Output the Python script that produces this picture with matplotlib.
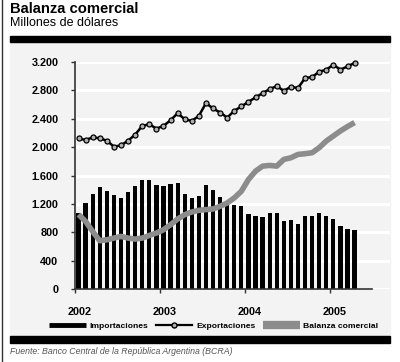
import matplotlib.pyplot as plt
from matplotlib.lines import Line2D
from matplotlib.patches import Rectangle

# Monthly data, Jan 2002 - Apr 2005 (millions of USD)
months = list(range(40))
importaciones = [1070, 1213, 1345, 1440, 1378, 1321, 1284, 1373, 1458, 1543, 1543, 1472,
                 1449, 1477, 1496, 1345, 1284, 1317, 1468, 1402, 1293, 1189, 1189, 1175,
                 1057, 1024, 1015, 1072, 1072, 953, 977, 920, 1034, 1024, 1072, 1034,
                 991, 882, 845, 826]
exportaciones = [2124, 2100, 2138, 2124, 2091, 2006, 2025, 2091, 2176, 2299, 2322, 2261,
                 2299, 2379, 2478, 2393, 2370, 2440, 2620, 2545, 2488, 2417, 2511, 2573,
                 2638, 2700, 2761, 2818, 2860, 2794, 2851, 2832, 2974, 2988, 3063, 3091,
                 3162, 3091, 3139, 3186]
balanza = [1050, 953, 811, 680, 694, 718, 741, 718, 704, 718, 755, 789,
           835, 906, 987, 1048, 1086, 1109, 1119, 1128, 1166, 1213, 1284, 1378,
           1543, 1661, 1732, 1742, 1732, 1827, 1850, 1897, 1907, 1921, 1992, 2086,
           2157, 2228, 2290, 2346]
year_labels = ['2002', '2003', '2004', '2005']
y_ticks = [0, 400, 800, 1200, 1600, 2000, 2400, 2800, 3200]

plt.rcParams['font.family'] = ['Liberation Sans', 'DejaVu Sans']

W, H = 400, 362
fig = plt.figure(figsize=(W / 100, H / 100), dpi=100)


def box(x0, y0, x1, y1):
    # pixel box (top-left origin) -> figure fraction rect
    return [x0 / W, 1 - y1 / H, (x1 - x0) / W, (y1 - y0) / H]


# Light gray panel and the two thick black rules
fig.patches.append(Rectangle((10 / W, 1 - 335 / H), 380 / W, 293 / H,
                             transform=fig.transFigure, color='#f3f3f3', zorder=0))
fig.patches.append(Rectangle((10 / W, 1 - 41.5 / H), 380 / W, 5 / H,
                             transform=fig.transFigure, color='black', zorder=1))
fig.patches.append(Rectangle((10 / W, 1 - 342.5 / H), 380 / W, 7 / H,
                             transform=fig.transFigure, color='black', zorder=1))
fig.lines.append(Line2D([2 / W, 2 / W], [0, 1], transform=fig.transFigure,
                        color='#333333', lw=1))

fig.text(10 / W, 1 - 2 / H, 'Balanza comercial', fontsize=10.6, fontweight='bold',
         va='top', ha='left')
fig.text(10 / W, 1 - 17 / H, 'Millones de dólares', fontsize=9, va='top', ha='left')

ax = fig.add_axes(box(75, 62, 390, 289))
ax.set_zorder(5)
ax.set_facecolor('none')

ax.bar([m + 0.5 for m in months], importaciones, width=0.6, color='black', zorder=2)
ax.plot([m + 0.5 for m in months], balanza, color='#8c8c8c', lw=4,
        solid_capstyle='butt', zorder=3)
ax.plot([m + 0.5 for m in months], exportaciones, color='black', lw=1.8,
        marker='o', markersize=3.6, markerfacecolor='#b0b0b0',
        markeredgecolor='black', markeredgewidth=0.9, zorder=4, clip_on=False)

ax.set_xlim(0, 44.5)
ax.set_ylim(0, 3200)

# White horizontal gridlines
ax.set_yticks(y_ticks)
ax.set_yticklabels([f'{v:,}'.replace(',', '.') for v in y_ticks],
                   fontsize=7.8, fontweight='bold')
ax.yaxis.grid(True, color='white', lw=2.2)
ax.set_axisbelow(True)
ax.tick_params(axis='y', length=3, width=1, color='#333333', pad=9)

ax.set_xticks([0, 12, 24, 36])
ax.set_xticklabels([])
ax.set_xticks([0.7, 12.7, 24.7, 36.7], minor=True)
ax.set_xticklabels(year_labels, minor=True, fontsize=7.8, fontweight='bold')
ax.tick_params(axis='x', which='major', length=3, width=1, color='#333333')
ax.tick_params(axis='x', which='minor', length=0, pad=13)

ax.spines['top'].set_visible(False)
ax.spines['right'].set_visible(False)
ax.spines['left'].set_color('#333333')
ax.spines['bottom'].set_color('#333333')
ax.spines['left'].set_linewidth(1.2)
ax.spines['bottom'].set_linewidth(1.2)
ax.spines['bottom'].set_bounds(0, 42)

handles = [
    Line2D([], [], color='black', lw=3.5, solid_capstyle='butt'),
    Line2D([], [], color='black', lw=1.6, marker='o', markersize=3.6,
           markerfacecolor='#b0b0b0', markeredgecolor='black'),
    Line2D([], [], color='#8c8c8c', lw=6, solid_capstyle='butt'),
]
fig.legend(handles, ['Importaciones', 'Exportaciones', 'Balanza comercial'],
           loc='center', bbox_to_anchor=(214 / W, 1 - 326 / H), ncol=3,
           frameon=False, handlelength=4.3, handletextpad=0.45, columnspacing=0.9,
           prop={'size': 6.1, 'weight': 'bold'})

fig.text(10 / W, 1 - 352 / H, 'Fuente: Banco Central de la República Argentina (BCRA)',
         fontsize=6.3, style='italic', color='#555555', va='center', ha='left')

plt.savefig('out.png', dpi=100)
